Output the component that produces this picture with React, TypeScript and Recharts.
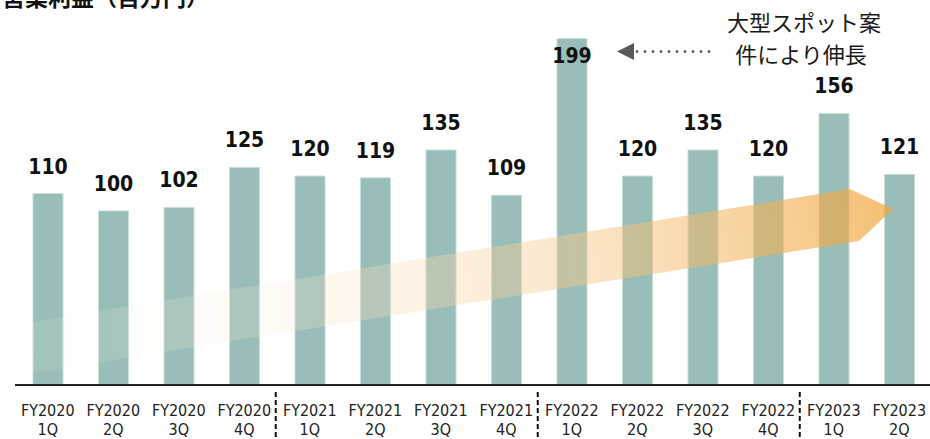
import React from "react";
import { BarChart, Bar, XAxis, YAxis, LabelList } from "recharts";

const fiscalYears = [
  "FY2020", "FY2020", "FY2020", "FY2020",
  "FY2021", "FY2021", "FY2021", "FY2021",
  "FY2022", "FY2022", "FY2022", "FY2022",
  "FY2023", "FY2023",
];
const quarters = ["1Q", "2Q", "3Q", "4Q", "1Q", "2Q", "3Q", "4Q", "1Q", "2Q", "3Q", "4Q", "1Q", "2Q"];
const operatingProfit = [110, 100, 102, 125, 120, 119, 135, 109, 199, 120, 135, 120, 156, 121];

const data = fiscalYears.map((fy, i) => ({
  period: `${fy} ${quarters[i]}`,
  value: operatingProfit[i],
}));

const maxValue = Math.max(...operatingProfit);
const LABEL_FONT = "'DejaVu Sans Condensed', 'DejaVu Sans', sans-serif";
const JP_FONT = "'Noto Sans CJK JP', sans-serif";

function PeriodTick(props: any) {
  const { x, y, payload } = props;
  const [fy, q] = String(payload.value).split(" ");
  const isYearStart = q === "1Q" && payload.index > 0;
  return (
    <g>
      <text x={x} y={y + 31} textAnchor="middle" fontSize={16} fill="#222" fontFamily={LABEL_FONT}>
        {fy}
      </text>
      <text x={x} y={y + 50} textAnchor="middle" fontSize={16} fill="#222" fontFamily={LABEL_FONT}>
        {q}
      </text>
      {isYearStart && (
        <line x1={x - 34} x2={x - 34} y1={y + 7} y2={y + 54} stroke="#111" strokeWidth={2} strokeDasharray="5 3" />
      )}
    </g>
  );
}

function ValueLabel(props: any) {
  const { x, y, width, value } = props;
  const cx = x + width / 2;
  const ty = value === maxValue ? y + 24 : y - 20;
  return (
    <text x={cx} y={ty} textAnchor="middle" fontSize={21} fontWeight="bold" fill="#111" fontFamily={LABEL_FONT}>
      {value}
    </text>
  );
}

// trend arrow + notes, drawn on top of the bars
function Overlay() {
  return (
    <svg width={930} height={439} style={{ position: "absolute", left: 0, top: 0, pointerEvents: "none" }}>
      <defs>
        <linearGradient id="trendFill" gradientUnits="userSpaceOnUse" x1={0} y1={352} x2={893} y2={209}>
          <stop offset="0" stopColor="#FFFFFF" stopOpacity={0.08} />
          <stop offset="0.3" stopColor="#FCEBD2" stopOpacity={0.22} />
          <stop offset="1" stopColor="#F0A439" stopOpacity={0.7} />
        </linearGradient>
      </defs>
      <polygon points="-5,379 -5,328 850,189 893,209 859,241" fill="url(#trendFill)" />
      <text x={2} y={6} fontSize={23} fontWeight="bold" fill="#111" fontFamily={JP_FONT}>
        営業利益（百万円）
      </text>
      <text x={804} y={31} textAnchor="middle" fontSize={22} fill="#1a1a1a" fontFamily={JP_FONT}>
        大型スポット案
      </text>
      <text x={801} y={63} textAnchor="middle" fontSize={22} fill="#1a1a1a" fontFamily={JP_FONT}>
        件により伸長
      </text>
      <polygon points="617,51.5 634,43 634,60" fill="#595959" />
      <line x1={637} x2={710} y1={51.5} y2={51.5} stroke="#666" strokeWidth={3} strokeDasharray="0 8" strokeLinecap="round" />
    </svg>
  );
}

export default function App() {
  return (
    <div style={{ position: "absolute", left: 0, top: 0, width: 930, height: 439, overflow: "hidden", background: "#fff" }}>
      <BarChart width={932} height={439} data={data} margin={{ top: 2, right: 0, bottom: 0, left: 15 }}>
        <XAxis
          dataKey="period"
          interval={0}
          height={54}
          tickLine={false}
          tickSize={0}
          tickMargin={0}
          axisLine={{ stroke: "#222", strokeWidth: 2 }}
          tick={<PeriodTick />}
        />
        <YAxis hide domain={[0, 220]} />
        <Bar dataKey="value" fill="#99BDB8" stroke="#c8dcd8" strokeWidth={1} barSize={30} isAnimationActive={false}>
          <LabelList dataKey="value" content={<ValueLabel />} />
        </Bar>
      </BarChart>
      <Overlay />
    </div>
  );
}
